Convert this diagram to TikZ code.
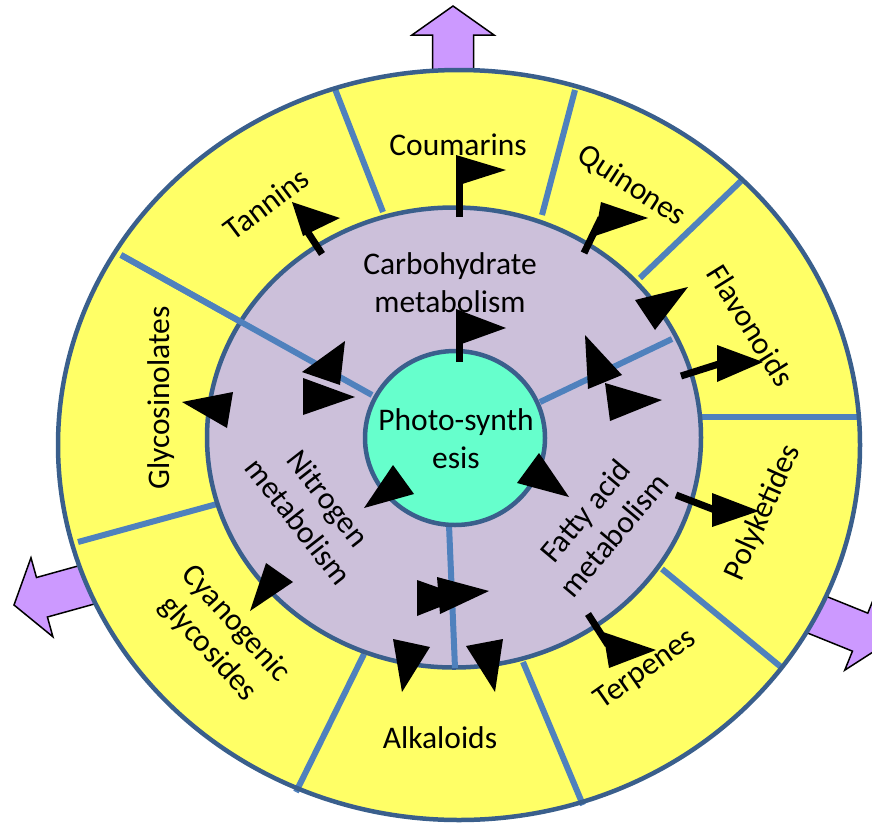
\documentclass[tikz,border=0pt]{standalone}
\usepackage{fontspec}
\setmainfont{Carlito}
\definecolor{ringblue}{HTML}{3A5F8C}
\definecolor{divblue}{HTML}{4F81BD}
\definecolor{yellowc}{HTML}{FFFF66}
\definecolor{lavender}{HTML}{CCC0DA}
\definecolor{aqua}{HTML}{66FFCC}
\definecolor{arrowpurple}{HTML}{CC99FF}
\begin{document}
\begin{tikzpicture}[x=1pt,y=-1pt,
  ring/.style={draw=ringblue, line width=4.5pt},
  divider/.style={draw=divblue, line width=6pt},
  bigarrow/.style={fill=arrowpurple, draw=black, line width=1.5pt, line join=miter},
  pole/.style={draw=black, line width=7pt},
  tri/.style={fill=black},
  lbl/.style={font=\fontsize{31.5}{37.5}\selectfont, inner sep=0pt, align=center}]
\useasboundingbox (0,0) rectangle (872,822);

% purple block arrows
\draw[bigarrow, shift={(453,6)}, rotate=90] (0,0) -- (-29,41) -- (-29,20.5) -- (-130,20.5) -- (-130,-20.5) -- (-29,-20.5) -- (-29,-41) -- cycle;
\draw[bigarrow, shift={(14,605)}, rotate=195.5] (0,0) -- (-29,41) -- (-29,20.5) -- (-130,20.5) -- (-130,-20.5) -- (-29,-20.5) -- (-29,-41) -- cycle;
\draw[bigarrow, shift={(887,643)}, rotate=338] (0,0) -- (-29,41) -- (-29,20.5) -- (-130,20.5) -- (-130,-20.5) -- (-29,-20.5) -- (-29,-41) -- cycle;

% outer ring
\fill[yellowc] (459,445) ellipse [x radius=401pt, y radius=375pt];
\coordinate (d1a) at (335,89);  \coordinate (d1b) at (383,212);
\coordinate (d2a) at (575,90);  \coordinate (d2b) at (542,215);
\coordinate (d3a) at (741,181); \coordinate (d3b) at (640,278);
\coordinate (d4a) at (857,417); \coordinate (d4b) at (700,417);
\coordinate (d5a) at (781,667); \coordinate (d5b) at (662,569);
\coordinate (d6a) at (583,805); \coordinate (d6b) at (523,662);
\coordinate (d7a) at (296,792); \coordinate (d7b) at (364,654);
\coordinate (d8a) at (78,542);  \coordinate (d8b) at (217,504);
\coordinate (d9a) at (121,255); \coordinate (d9b) at (372,395);
\foreach \i in {1,...,9} \draw[divider] (d\i a) -- (d\i b);
\draw[ring] (459,445) ellipse [x radius=401pt, y radius=375pt];

% middle ring
\filldraw[fill=lavender, ring] (454,437.5) ellipse [x radius=247pt, y radius=230pt];
\coordinate (e1a) at (672,339); \coordinate (e1b) at (540,402);
\coordinate (e2a) at (455,668); \coordinate (e2b) at (449,525);
\draw[divider] (d9a) -- (d9b);
\draw[divider] (e1a) -- (e1b);
\draw[divider] (e2a) -- (e2b);

% inner circle
\filldraw[fill=aqua, ring] (455,438) ellipse [x radius=90pt, y radius=87pt];

% labels
\node[lbl, anchor=base] (coumarins) at (458,155) {Coumarins};
\node[lbl, anchor=base] (alkaloids) at (440,748) {Alkaloids};
\node[lbl, rotate=37] (tannins) at (268,206) {\strut Tannins};
\node[lbl, rotate=-33] (quinones) at (631,187) {\strut Quinones};
\node[lbl, rotate=-58] (flavonoids) at (748,327) {\strut Flavonoids};
\node[lbl, rotate=66] (polyketides) at (764,513) {\strut Polyketides};
\node[lbl, rotate=35] (terpenes) at (646,670) {\strut Terpenes};
\node[lbl, rotate=90] (glyco) at (162,398) {\strut Glycosinolates};
\node[lbl, rotate=-48] (cyano) at (221,637) {\strut Cyanogenic\\\strut glycosides};
\node[lbl] (carbo) at (450,286) {\strut Carbohydrate\\\strut metabolism};
\node[lbl, rotate=-52] (nitro) at (311,512) {\strut Nitrogen\\\strut metabolism};
\node[lbl, rotate=50] (fatty) at (602,525) {\strut Fatty acid\\\strut metabolism};
\node[lbl] (photo) at (456,442) {\strut Photo-synth\\\strut esis};

% black poles
\draw[pole] (459,217) -- (459,160);
\draw[pole] (459,362) -- (459,312);
\draw[pole] (322,254) -- (305,228);
\draw[pole] (584,253) -- (601,218);
\draw[pole] (681,376) -- (722,363);
\draw[pole] (676,495) -- (715,510);
\draw[pole] (588,614) -- (608,645);

% black triangles
\fill[tri] (456,155) -- (506,170) -- (456,186) -- cycle;
\fill[tri] (456,309) -- (506,328) -- (456,346) -- cycle;
\fill[tri] (292,202) -- (340,218) -- (303,236) -- cycle;
\fill[tri] (601,202) -- (648,218) -- (595,236) -- cycle;
\fill[tri] (635,300) -- (688,287) -- (655,330) -- cycle;
\fill[tri] (717,345) -- (763,362) -- (717,382) -- cycle;
\fill[tri] (585,335) -- (622,375) -- (588,389) -- cycle;
\fill[tri] (605,383) -- (662,400) -- (610,421) -- cycle;
\fill[tri] (712,493) -- (759,511) -- (712,527) -- cycle;
\fill[tri] (603,632) -- (656,650) -- (609,668) -- cycle;
\fill[tri] (517,483) -- (539,453) -- (569,497) -- cycle;
\fill[tri] (364,508) -- (393,465) -- (414,494) -- cycle;
\fill[tri] (417,580) -- (417,616) -- (465,597) -- cycle;
\fill[tri] (437,577) -- (440,614) -- (489,591) -- cycle;
\fill[tri] (393,639) -- (430,647) -- (402,692) -- cycle;
\fill[tri] (466,646) -- (503,639) -- (495,692) -- cycle;
\fill[tri] (250,611) -- (266,563) -- (293,582) -- cycle;
\fill[tri] (182,402) -- (233,392) -- (227,428) -- cycle;
\fill[tri] (345,341) -- (302,372) -- (340,385) -- cycle;
\fill[tri] (303,378) -- (303,415) -- (355,397) -- cycle;
\end{tikzpicture}
\end{document}
